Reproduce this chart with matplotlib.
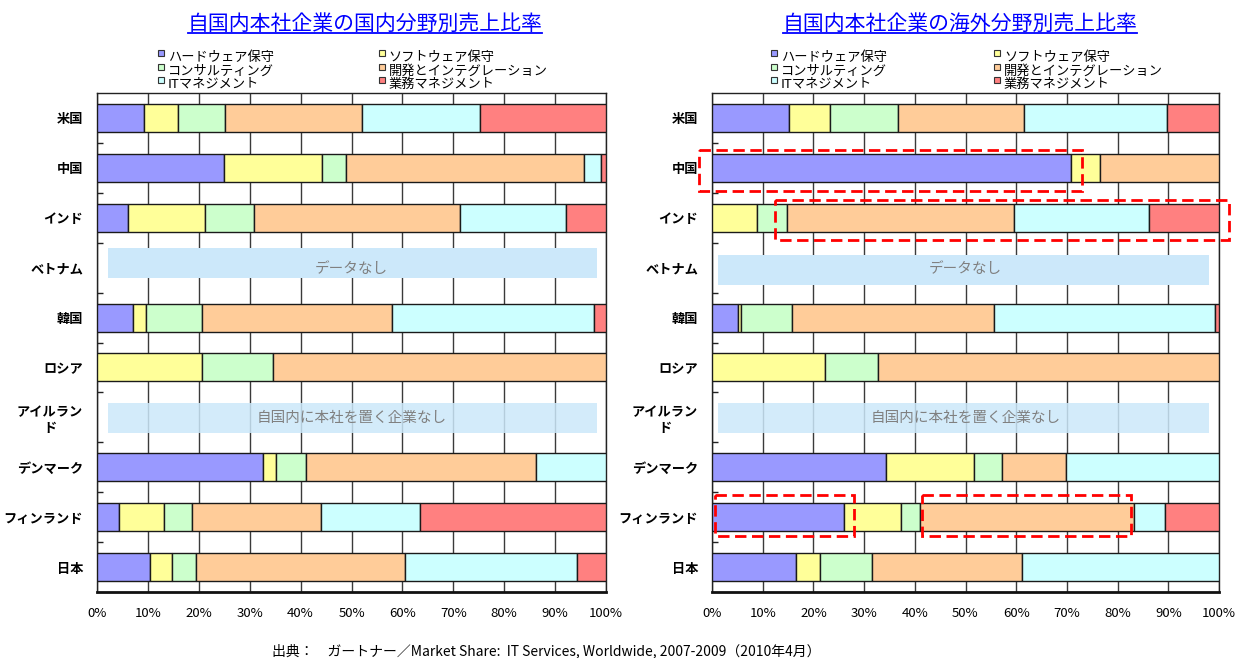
import numpy as np
import matplotlib
matplotlib.use("Agg")
import matplotlib.pyplot as plt
from matplotlib.patches import Rectangle
from matplotlib.lines import Line2D

plt.rcParams['font.family'] = ['Noto Sans CJK JP', 'DejaVu Sans']

# ---- data (percent of sales by field) ----
countries = ['米国', '中国', 'インド', 'ベトナム', '韓国', 'ロシア',
             'アイルラン\nド', 'デンマーク', 'フィンランド', '日本']
segments = ['ハードウェア保守', 'ソフトウェア保守', 'コンサルティング',
            '開発とインテグレーション', 'ITマネジメント', '業務マネジメント']
seg_colors = ['#9999FF', '#FFFF99', '#CCFFCC', '#FFCC99', '#CCFFFF', '#FF8080']

nan = np.nan
# domestic sales share
dom_hw   = [9.3, 24.9, 6.1, nan, 7.1, 0.0, nan, 32.6, 4.4, 10.4]
dom_sw   = [6.6, 19.3, 15.1, nan, 2.6, 20.7, nan, 2.5, 8.7, 4.3]
dom_cons = [9.2, 4.7, 9.6, nan, 10.9, 13.8, nan, 5.9, 5.5, 4.8]
dom_dev  = [27.0, 46.8, 40.6, nan, 37.4, 65.5, nan, 45.2, 25.5, 41.1]
dom_itm  = [23.1, 3.3, 20.7, nan, 39.7, 0.0, nan, 13.8, 19.4, 33.8]
dom_biz  = [24.8, 1.0, 7.9, nan, 2.3, 0.0, nan, 0.0, 36.5, 5.6]

# overseas sales share
ovs_hw   = [15.1, 70.9, 0.0, nan, 5.2, 0.0, nan, 34.3, 26.0, 16.5]
ovs_sw   = [8.2, 5.7, 8.9, nan, 0.5, 22.2, nan, 17.4, 11.2, 4.8]
ovs_cons = [13.3, 0.0, 5.8, nan, 10.0, 10.6, nan, 5.5, 3.8, 10.3]
ovs_dev  = [25.0, 23.4, 44.8, nan, 40.0, 67.2, nan, 12.6, 42.3, 29.5]
ovs_itm  = [28.2, 0.0, 26.6, nan, 43.5, 0.0, nan, 30.2, 6.0, 38.9]
ovs_biz  = [10.2, 0.0, 13.9, nan, 0.8, 0.0, nan, 0.0, 10.7, 0.0]

x_ticks = [0, 10, 20, 30, 40, 50, 60, 70, 80, 90, 100]
x_ticklabels = [f'{v}%' for v in x_ticks]

title_dom = '自国内本社企業の国内分野別売上比率'
title_ovs = '自国内本社企業の海外分野別売上比率'
no_data_text = 'データなし'
no_hq_text = '自国内に本社を置く企業なし'
source_text = '出典：　ガートナー／Market Share:  IT Services, Worldwide, 2007-2009（2010年4月）'

W, H = 1235, 658
fig = plt.figure(figsize=(W / 100, H / 100), dpi=100)


def fx(px):
    return px / W


def fy(py):
    return 1 - py / H


def draw_panel(ax, series, note_boxes):
    y = np.arange(len(countries))
    left = np.zeros(len(countries))
    for vals, col in zip(series, seg_colors):
        v = np.array(vals, dtype=float)
        mask = ~np.isnan(v) & (v > 0)
        ax.barh(y[mask], v[mask], left=left[mask], height=0.56,
                color=col, edgecolor='#1a1a1a', linewidth=1.0, zorder=3)
        left = left + np.nan_to_num(v)

    ax.set_xlim(0, 100)
    ax.set_ylim(len(countries) - 0.5, -0.5)
    ax.set_xticks(x_ticks)
    ax.set_xticklabels(x_ticklabels, fontsize=9.5)
    ax.set_yticks(y)
    ax.set_yticklabels(countries, fontsize=9.5, fontweight='bold',
                       multialignment='center')
    ax.set_yticks(np.arange(0.5, len(countries) - 0.5), minor=True)
    ax.tick_params(axis='x', length=0, pad=11)
    ax.tick_params(axis='y', which='major', length=0, pad=10)
    ax.tick_params(axis='y', which='minor', direction='in', length=4,
                   width=1, color='#222222')
    ax.xaxis.grid(True, color='#3a3a3a', linewidth=1.0, zorder=1)
    ax.set_axisbelow(True)
    for s in ['left', 'top', 'right']:
        ax.spines[s].set_linewidth(1.0)
        ax.spines[s].set_color('#222222')
    ax.spines['bottom'].set_linewidth(2.0)
    ax.spines['bottom'].set_color('#111111')

    for (row, x0, x1, y0, y1, txt, alpha) in note_boxes:
        ax.add_patch(Rectangle((x0, row + y0), x1 - x0, y1 - y0,
                               facecolor='#CCE8FA', edgecolor='none',
                               alpha=alpha, zorder=4))
        ax.text(50, row + 0.02, txt, ha='center', va='center',
                fontsize=10.5, color='#808080', zorder=5)


def draw_legend(mx1, mx2):
    rows_text = [57, 71, 84]
    rows_mark = [53, 67, 80]
    order = [(0, mx1, 0), (1, mx2, 0), (2, mx1, 1), (3, mx2, 1),
             (4, mx1, 2), (5, mx2, 2)]
    for idx, mx, r in order:
        s = 6
        fig.add_artist(Rectangle((fx(mx - s / 2), fy(rows_mark[r] + s / 2)),
                                 s / W, s / H, transform=fig.transFigure,
                                 facecolor=seg_colors[idx],
                                 edgecolor='#333333', linewidth=0.8))
        fig.text(fx(mx + 7), fy(rows_text[r]), segments[idx],
                 fontsize=9.5, ha='left', va='center', color='black')


def draw_title(cx, text):
    t = fig.text(fx(cx), fy(24), text, ha='center', va='center',
                 fontsize=15, color='#0000FF')
    fig.canvas.draw()
    bb = t.get_window_extent().transformed(fig.transFigure.inverted())
    fig.add_artist(Line2D([bb.x0, bb.x1], [fy(33), fy(33)],
                          transform=fig.transFigure, color='#0000FF',
                          linewidth=1.3))


ax1 = fig.add_axes([fx(97), fy(592), fx(606) - fx(97), fy(93) - fy(592)])
ax2 = fig.add_axes([fx(712), fy(592), fx(1219) - fx(712), fy(93) - fy(592)])

draw_panel(ax1, [dom_hw, dom_sw, dom_cons, dom_dev, dom_itm, dom_biz],
           [(3, 2.2, 98.3, -0.39, 0.20, no_data_text, 1.0),
            (6, 2.2, 98.3, -0.29, 0.31, no_hq_text, 0.85)])
draw_panel(ax2, [ovs_hw, ovs_sw, ovs_cons, ovs_dev, ovs_itm, ovs_biz],
           [(3, 1.2, 98.0, -0.26, 0.34, no_data_text, 1.0),
            (6, 1.2, 98.0, -0.29, 0.31, no_hq_text, 0.85)])

# highlighted regions on the overseas panel
highlight = [(1, -2.6, 73.0, -0.35, 0.47),
             (2, 12.5, 102.0, -0.36, 0.44),
             (8, 0.6, 28.0, -0.44, 0.37),
             (8, 41.4, 82.6, -0.44, 0.37)]
for row, x0, x1, y0, y1 in highlight:
    ax2.add_patch(Rectangle((x0, row + y0), x1 - x0, y1 - y0,
                            fill=False, edgecolor='#FF0000', linewidth=2.0,
                            linestyle=(0, (4.1, 2.0)), clip_on=False,
                            zorder=6))

draw_legend(160.7, 381.5)
draw_legend(773.6, 997.0)
draw_title(365, title_dom)
draw_title(960, title_ovs)

fig.text(fx(546), fy(651), source_text, ha='center', va='center',
         fontsize=10, color='black')

fig.savefig('out.png', dpi=100)
